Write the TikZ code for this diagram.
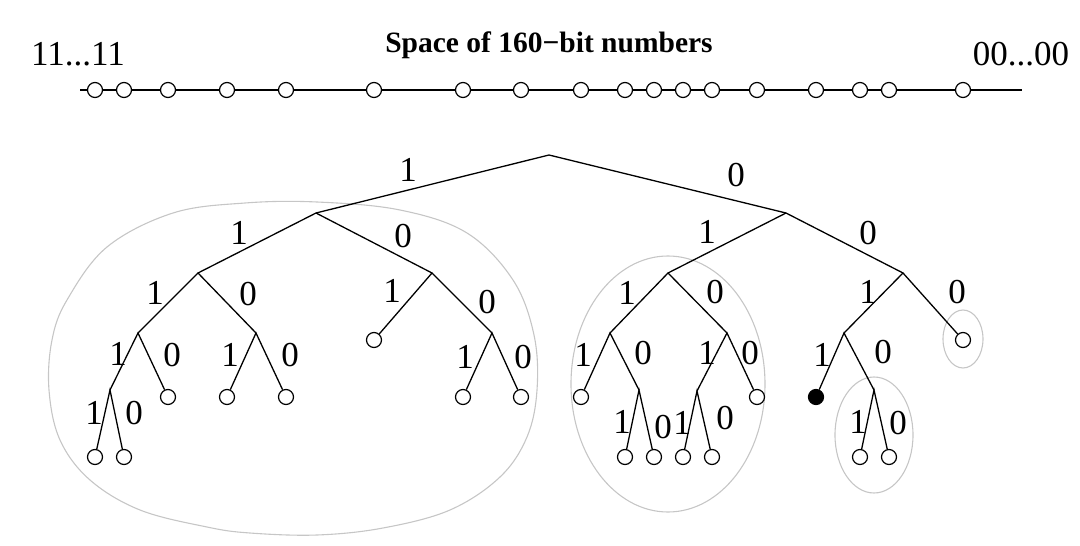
\documentclass[tikz,border=0pt]{standalone}
\usepackage{fontspec}
\setmainfont{Liberation Serif}
\begin{document}
\begin{tikzpicture}[x=1pt,y=-1pt,
  edge/.style={line width=1.3pt},
  leaf/.style={circle,draw,line width=1.2pt,fill=white,minimum size=15pt,inner sep=0pt},
  blackleaf/.style={circle,draw,line width=1.2pt,fill=black,minimum size=15pt,inner sep=0pt},
  lbl/.style={font=\fontsize{35}{35}\selectfont,inner sep=0pt},
  blob/.style={draw=gray!45,line width=1.1pt}]
\useasboundingbox (0,0) rectangle (1080,546);
% top texts
\node[lbl] (lo) at (78,54) {11...11};
\node[lbl] (hi) at (1021,54) {00...00};
\node[font=\fontsize{29.5}{30}\bfseries\selectfont,inner sep=0pt] (title) at (549,45) {Space of 160−bit numbers};
% number line
\coordinate (ls) at (80,90);
\coordinate (le) at (1022,90);
\draw[line width=2pt] (ls) -- (le);
\foreach \x [count=\i] in {95,124,168,227,286,374,463,521,581,625,654,683,712,757,816,860,889,963}
  \node[leaf] (n\i) at (\x,90) {};
% blobs
\draw[blob] plot[smooth cycle, tension=0.6] coordinates {(317,202) (400,210) (467,233) (513,280) (534,335) (537,390) (527,437) (500,477) (450,510) (383,528) (317,535) (250,533) (207,527) (140,510) (90,480) (60,440) (49,390) (52,340) (67,300) (107,247) (173,213) (245,203)};
\draw[blob] (668,384) ellipse [x radius=97, y radius=128];
\draw[blob] (963,339) ellipse [x radius=20, y radius=29];
\draw[blob] (874,435) ellipse [x radius=39, y radius=58];
% tree internal nodes
\coordinate (r) at (549,155);
\coordinate (L) at (316,213);
\coordinate (R) at (786,213);
\coordinate (LL) at (198,273);
\coordinate (LR) at (432,273);
\coordinate (LLL) at (138,333);
\coordinate (LLR) at (256,333);
\coordinate (LRR) at (492,333);
\coordinate (LLLL) at (110,390);
\coordinate (RL) at (668,273);
\coordinate (RR) at (903,273);
\coordinate (RLL) at (610,333);
\coordinate (RLR) at (727,333);
\coordinate (RLLR) at (639,390);
\coordinate (RLRL) at (697,391);
\coordinate (RRL) at (844,333);
\coordinate (RRLR) at (874,390);
% leaves
\node[leaf] (LLLLL) at (95,457) {};
\node[leaf] (LLLLR) at (124,457) {};
\node[leaf] (LLLR) at (168,397) {};
\node[leaf] (LLRL) at (227,397) {};
\node[leaf] (LLRR) at (286,397) {};
\node[leaf] (LRL) at (374,340) {};
\node[leaf] (LRRL) at (463,397) {};
\node[leaf] (LRRR) at (521,397) {};
\node[leaf] (RLLL) at (581,397) {};
\node[leaf] (RLLRL) at (625,457) {};
\node[leaf] (RLLRR) at (654,457) {};
\node[leaf] (RLRLL) at (683,457) {};
\node[leaf] (RLRLR) at (712,457) {};
\node[leaf] (RLRR) at (757,397) {};
\node[blackleaf] (RRLL) at (816,397) {};
\node[leaf] (RRLRL) at (860,457) {};
\node[leaf] (RRLRR) at (889,457) {};
\node[leaf] (RRR) at (963,340) {};
% edges
\draw[edge] (L) -- (r) -- (R);
\draw[edge] (LL) -- (L) -- (LR);
\draw[edge] (LLL) -- (LL) -- (LLR);
\draw[edge] (LLLL) -- (LLL) -- (LLLR);
\draw[edge] (LLLLL) -- (LLLL) -- (LLLLR);
\draw[edge] (LLRL) -- (LLR) -- (LLRR);
\draw[edge] (LRL) -- (LR) -- (LRR);
\draw[edge] (LRRL) -- (LRR) -- (LRRR);
\draw[edge] (RL) -- (R) -- (RR);
\draw[edge] (RLL) -- (RL) -- (RLR);
\draw[edge] (RLLL) -- (RLL) -- (RLLR);
\draw[edge] (RLLRL) -- (RLLR) -- (RLLRR);
\draw[edge] (RLRL) -- (RLR) -- (RLRR);
\draw[edge] (RLRLL) -- (RLRL) -- (RLRLR);
\draw[edge] (RRL) -- (RR) -- (RRR);
\draw[edge] (RRLL) -- (RRL) -- (RRLR);
\draw[edge] (RRLRL) -- (RRLR) -- (RRLRR);
% edge labels
\node[lbl] (a1) at (408,170) {1};
\node[lbl] (a2) at (736,175) {0};
\node[lbl] (b1) at (239,233) {1};
\node[lbl] (b2) at (403,236) {0};
\node[lbl] (b3) at (707,232) {1};
\node[lbl] (b4) at (868,233) {0};
\node[lbl] (c1) at (155,293) {1};
\node[lbl] (c2) at (248,294) {0};
\node[lbl] (c3) at (392,291) {1};
\node[lbl] (c4) at (487,302) {0};
\node[lbl] (c5) at (627,293) {1};
\node[lbl] (c6) at (715,292) {0};
\node[lbl] (c7) at (868,292) {1};
\node[lbl] (c8) at (957,292) {0};
\node[lbl] (d1) at (118,354) {1};
\node[lbl] (d2) at (172,355) {0};
\node[lbl] (d3) at (230,355) {1};
\node[lbl] (d4) at (290,355) {0};
\node[lbl] (d5) at (465,357) {1};
\node[lbl] (d6) at (523,357) {0};
\node[lbl] (d7) at (583,355) {1};
\node[lbl] (d8) at (643,353) {0};
\node[lbl] (d9) at (707,353) {1};
\node[lbl] (d10) at (750,353) {0};
\node[lbl] (d11) at (822,355) {1};
\node[lbl] (d12) at (883,352) {0};
\node[lbl] (e1) at (94,413) {1};
\node[lbl] (e2) at (134,413) {0};
\node[lbl] (e3) at (622,422) {1};
\node[lbl] (e4) at (663,427) {0};
\node[lbl] (e5) at (682,423) {1};
\node[lbl] (e6) at (725,418) {0};
\node[lbl] (e7) at (858,422) {1};
\node[lbl] (e8) at (898,423) {0};
\end{tikzpicture}
\end{document}
